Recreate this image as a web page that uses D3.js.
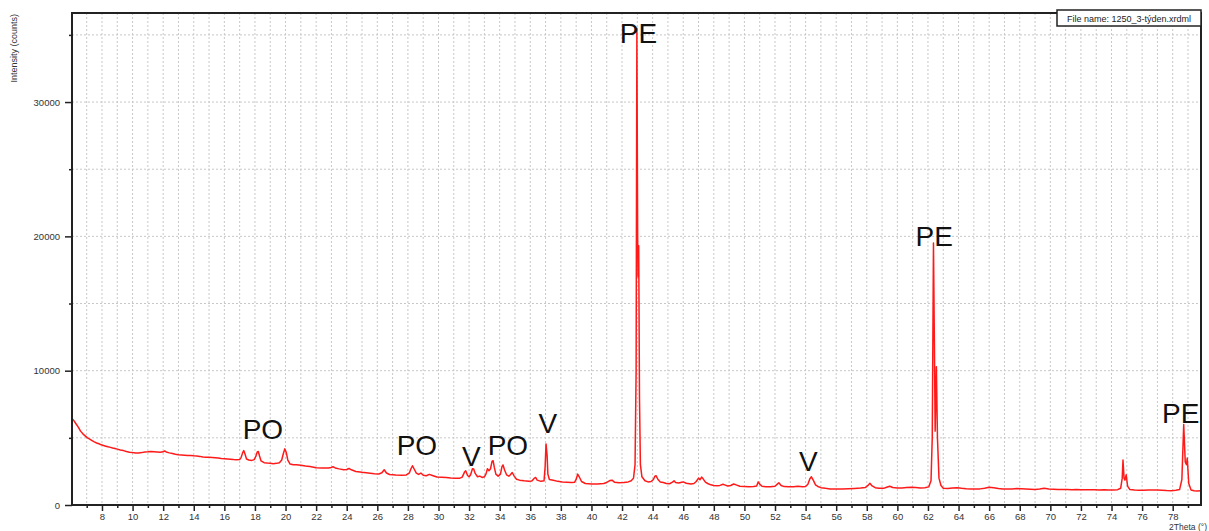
<!DOCTYPE html>
<html>
<head>
<meta charset="utf-8">
<script src="https://cdn.jsdelivr.net/npm/d3@7"></script>
<style>
html,body{margin:0;padding:0;background:#fff;}
svg{display:block;font-family:"Liberation Sans",Arial,Helvetica,sans-serif;}
</style>
</head>
<body>
<svg id="chart" width="1209" height="531"></svg>
<script>
const twoTheta = [
6.04,6.15,6.3,6.45,6.6,6.75,6.9,7.05,7.2,7.35,7.5,7.65,7.8,7.95,8.1,8.25,8.4,8.55,8.7,8.85,
9.0,9.2,9.4,9.6,9.8,10.0,10.2,10.4,10.6,10.8,11.0,11.2,11.4,11.6,11.8,12.0,12.1,12.2,12.4,12.6,
12.8,13.0,13.2,13.4,13.6,13.8,14.0,14.2,14.4,14.6,14.8,15.0,15.2,15.4,15.6,15.8,16.0,16.2,16.4,16.6,
16.8,17.0,17.1,17.2,17.27,17.35,17.45,17.6,17.8,17.95,18.05,18.15,18.22,18.3,18.4,18.6,18.8,19.0,19.2,19.4,
19.6,19.75,19.85,19.95,20.05,20.15,20.3,20.5,20.7,21.0,21.3,21.6,22.0,22.4,22.8,23.0,23.1,23.25,23.5,23.8,
24.0,24.15,24.3,24.6,25.0,25.4,25.8,26.1,26.3,26.45,26.6,26.8,27.2,27.6,27.9,28.1,28.2,28.3,28.4,28.55,
28.7,28.85,29.0,29.2,29.4,29.6,29.9,30.2,30.5,30.8,31.1,31.4,31.55,31.7,31.78,31.9,32.0,32.1,32.22,32.3,
32.4,32.55,32.7,32.85,33.0,33.1,33.2,33.3,33.4,33.5,33.57,33.65,33.75,33.9,34.05,34.15,34.22,34.32,34.45,34.6,
34.7,34.82,34.95,35.1,35.3,35.6,35.9,36.1,36.25,36.35,36.45,36.7,36.9,36.97,37.03,37.1,37.15,37.25,37.5,37.8,
38.1,38.4,38.7,38.9,39.0,39.1,39.2,39.35,39.6,40.0,40.4,40.8,41.0,41.2,41.35,41.5,41.8,42.1,42.4,42.6,
42.75,42.85,42.92,42.97,43.02,43.05,43.09,43.14,43.2,43.3,43.5,43.7,43.9,44.05,44.15,44.22,44.35,44.5,44.7,44.9,
45.1,45.3,45.4,45.5,45.7,45.9,46.0,46.2,46.5,46.7,46.85,47.0,47.1,47.2,47.3,47.45,47.6,47.8,48.0,48.2,
48.4,48.6,48.75,48.9,49.1,49.3,49.5,49.7,50.0,50.3,50.6,50.8,50.9,51.0,51.15,51.4,51.7,52.0,52.15,52.25,
52.4,52.6,52.9,53.2,53.5,53.8,54.0,54.15,54.28,54.38,54.5,54.65,54.8,55.0,55.3,55.6,56.0,56.4,56.8,57.2,
57.6,57.9,58.1,58.2,58.35,58.55,58.8,59.1,59.3,59.5,59.7,60.0,60.3,60.6,60.9,61.2,61.5,61.8,62.05,62.2,
62.28,62.36,62.42,62.47,62.55,62.62,62.72,62.85,63.0,63.3,63.6,63.9,64.2,64.5,64.8,65.1,65.4,65.7,66.0,66.3,
66.6,66.9,67.2,67.5,67.8,68.1,68.4,68.7,69.0,69.3,69.6,69.9,70.2,70.5,70.8,71.1,71.4,71.7,72.0,72.3,
72.6,72.9,73.2,73.5,73.8,74.1,74.4,74.6,74.7,74.75,74.82,74.88,74.96,75.05,75.2,75.5,75.8,76.1,76.4,76.7,
77.0,77.3,77.6,77.9,78.2,78.45,78.6,78.72,78.82,78.9,78.95,79.05,79.2,79.4,79.6,79.85
];
const intensity = [
6450,6300,6050,5800,5500,5300,5150,5000,4900,4800,4700,4620,4560,4480,4430,4380,4330,4290,4240,4200,
4160,4100,4050,3980,3930,3900,3880,3870,3900,3940,3960,3990,3970,3950,3930,3960,4020,3950,3880,3840,
3780,3740,3720,3700,3680,3690,3660,3640,3620,3580,3560,3550,3540,3520,3500,3470,3450,3430,3410,3380,
3360,3380,3550,3900,4050,3800,3420,3350,3320,3380,3600,3950,3980,3650,3280,3150,3120,3100,3080,3100,
3150,3350,3800,4180,3900,3350,3050,3000,2990,2960,2900,2860,2780,2760,2760,2800,2850,2760,2690,2630,
2640,2720,2620,2500,2430,2380,2330,2310,2400,2620,2380,2270,2230,2220,2240,2400,2700,2920,2700,2380,
2280,2380,2220,2180,2280,2200,2080,2060,2040,2010,1990,2000,2080,2450,2550,2200,2100,2250,2700,2680,
2350,2100,2150,2050,2100,2300,2700,2550,2700,3250,3300,2800,2300,2150,2300,2850,2980,2600,2250,2150,
2250,2420,2150,1920,1850,1800,1760,1780,1980,2050,1850,1760,1800,2800,4550,3700,2300,1900,1850,1760,
1720,1700,1680,1700,1900,2300,2100,1750,1600,1570,1560,1600,1680,1820,1850,1700,1660,1670,1720,1800,
2000,3000,10000,35500,20000,17000,19300,8000,3000,2100,1800,1720,1750,1900,2150,2180,1900,1720,1680,1600,
1580,1700,1800,1680,1640,1700,1720,1620,1560,1600,1750,2000,1880,2080,1950,1700,1600,1500,1450,1440,
1460,1540,1480,1420,1450,1560,1480,1400,1380,1360,1370,1420,1720,1550,1400,1360,1350,1400,1550,1650,
1450,1370,1350,1360,1390,1350,1380,1550,1950,2100,1850,1500,1380,1290,1240,1200,1190,1200,1210,1230,
1260,1300,1480,1620,1420,1290,1250,1240,1320,1400,1300,1270,1260,1300,1330,1300,1270,1290,1350,1800,
5000,19500,12000,5500,10300,5000,2000,1450,1250,1220,1260,1280,1240,1210,1200,1190,1200,1250,1320,1280,
1220,1190,1200,1190,1220,1210,1200,1180,1160,1190,1240,1200,1180,1160,1150,1160,1140,1150,1140,1130,
1140,1130,1120,1130,1120,1120,1140,1250,2000,3350,2000,1850,2250,1400,1150,1110,1100,1090,1110,1120,
1110,1100,1080,1070,1100,1150,1900,6000,3200,3000,3500,1600,1120,1060,1050,1060
];
const yTickLabels = [0, 10000, 20000, 30000];
const yMinorTicks = [5000, 15000, 25000, 35000];
const xTickLabels = [8,10,12,14,16,18,20,22,24,26,28,30,32,34,36,38,40,42,44,46,48,50,52,54,56,58,60,62,64,66,68,70,72,74,76,78];
const annotationText = ["PO","PO","V","PO","V","PE","V","PE","PE"];
const annotationX = [18.52, 28.59, 32.15, 34.54, 37.15, 43.07, 54.18, 62.41, 78.52];
const annotationY = [4915, 3723, 2904, 3723, 5361, 34400, 2530, 19285, 6106];
const fileName = "File name: 1250_3-týden.xrdml";

const svg = d3.select("#chart");
const L = 72, R = 1201, T = 13, B = 505;
const x = d3.scaleLinear().domain([6.04, 79.85]).range([L, R]);
const y = d3.scaleLinear().domain([0, 36630]).range([B, T]);

// grid
const gx = d3.range(7, 80, 1);
svg.append("g").selectAll("line").data(gx).join("line")
  .attr("x1", d => x(d)).attr("x2", d => x(d)).attr("y1", T).attr("y2", B)
  .attr("stroke", "#c8c8c8").attr("stroke-width", 1).attr("stroke-dasharray", "2,2");
const gy = d3.range(5000, 36000, 5000);
svg.append("g").selectAll("line").data(gy).join("line")
  .attr("x1", L).attr("x2", R).attr("y1", d => y(d)).attr("y2", d => y(d))
  .attr("stroke", "#c8c8c8").attr("stroke-width", 1).attr("stroke-dasharray", "2,2");

// data line
const pts = twoTheta.map((t, i) => [t, intensity[i]]);
svg.append("path").datum(pts)
  .attr("fill", "none").attr("stroke", "#ff1a1a").attr("stroke-width", 1.5)
  .attr("stroke-linejoin", "round")
  .attr("d", d3.line().x(d => x(d[0])).y(d => y(d[1])));

// frame
svg.append("rect").attr("x", L).attr("y", T).attr("width", R - L).attr("height", B - T)
  .attr("fill", "none").attr("stroke", "#222").attr("stroke-width", 2);

// x axis
const xAxis = d3.axisBottom(x).tickValues(xTickLabels).tickSize(6).tickPadding(2).tickFormat(d3.format("d"));
const xg = svg.append("g").attr("transform", `translate(0,${B})`).call(xAxis);
xg.select(".domain").remove();
xg.selectAll(".tick line").attr("stroke", "#222").attr("stroke-width", 1.5);
xg.selectAll(".tick text").attr("fill", "#333").attr("font-size", 9.5).attr("font-family", "Liberation Sans, Arial, sans-serif");
const xMinor = d3.axisBottom(x).tickValues(d3.range(7, 80, 2)).tickSize(3).tickFormat("");
const xm = svg.append("g").attr("transform", `translate(0,${B})`).call(xMinor);
xm.select(".domain").remove();
xm.selectAll(".tick line").attr("stroke", "#222").attr("stroke-width", 1.5);

// y axis
const yAxis = d3.axisLeft(y).tickValues(yTickLabels).tickSize(7).tickPadding(5).tickFormat(d3.format("d"));
const yg = svg.append("g").attr("transform", `translate(${L},0)`).call(yAxis);
yg.select(".domain").remove();
yg.selectAll(".tick line").attr("stroke", "#222").attr("stroke-width", 1.5);
yg.selectAll(".tick text").attr("fill", "#333").attr("font-size", 9.5).attr("font-family", "Liberation Sans, Arial, sans-serif");
const yMinor = d3.axisLeft(y).tickValues(yMinorTicks).tickSize(3).tickFormat("");
const ym = svg.append("g").attr("transform", `translate(${L},0)`).call(yMinor);
ym.select(".domain").remove();
ym.selectAll(".tick line").attr("stroke", "#222").attr("stroke-width", 1.5);

// axis titles
svg.append("text").attr("transform", "translate(17,14) rotate(-90)")
  .attr("text-anchor", "end").attr("font-size", 9).attr("fill", "#333").text("Intensity (counts)");
svg.append("text").attr("x", 1207).attr("y", 530).attr("text-anchor", "end")
  .attr("font-size", 8.5).attr("fill", "#333").text("2Theta (°)");

// file name box
const fb = svg.append("g");
fb.append("rect").attr("x", 1057).attr("y", 10).attr("width", 144).attr("height", 16)
  .attr("fill", "#fff").attr("stroke", "#222").attr("stroke-width", 1.5);
fb.append("text").attr("x", 1129).attr("y", 22).attr("text-anchor", "middle")
  .attr("font-size", 9).attr("fill", "#222").text(fileName);

// annotations
svg.append("g").selectAll("text").data(annotationText).join("text")
  .attr("x", (d, i) => x(annotationX[i])).attr("y", (d, i) => y(annotationY[i]))
  .attr("text-anchor", "middle").attr("font-size", 28).attr("fill", "#111")
  .text(d => d);
</script>
</body>
</html>
